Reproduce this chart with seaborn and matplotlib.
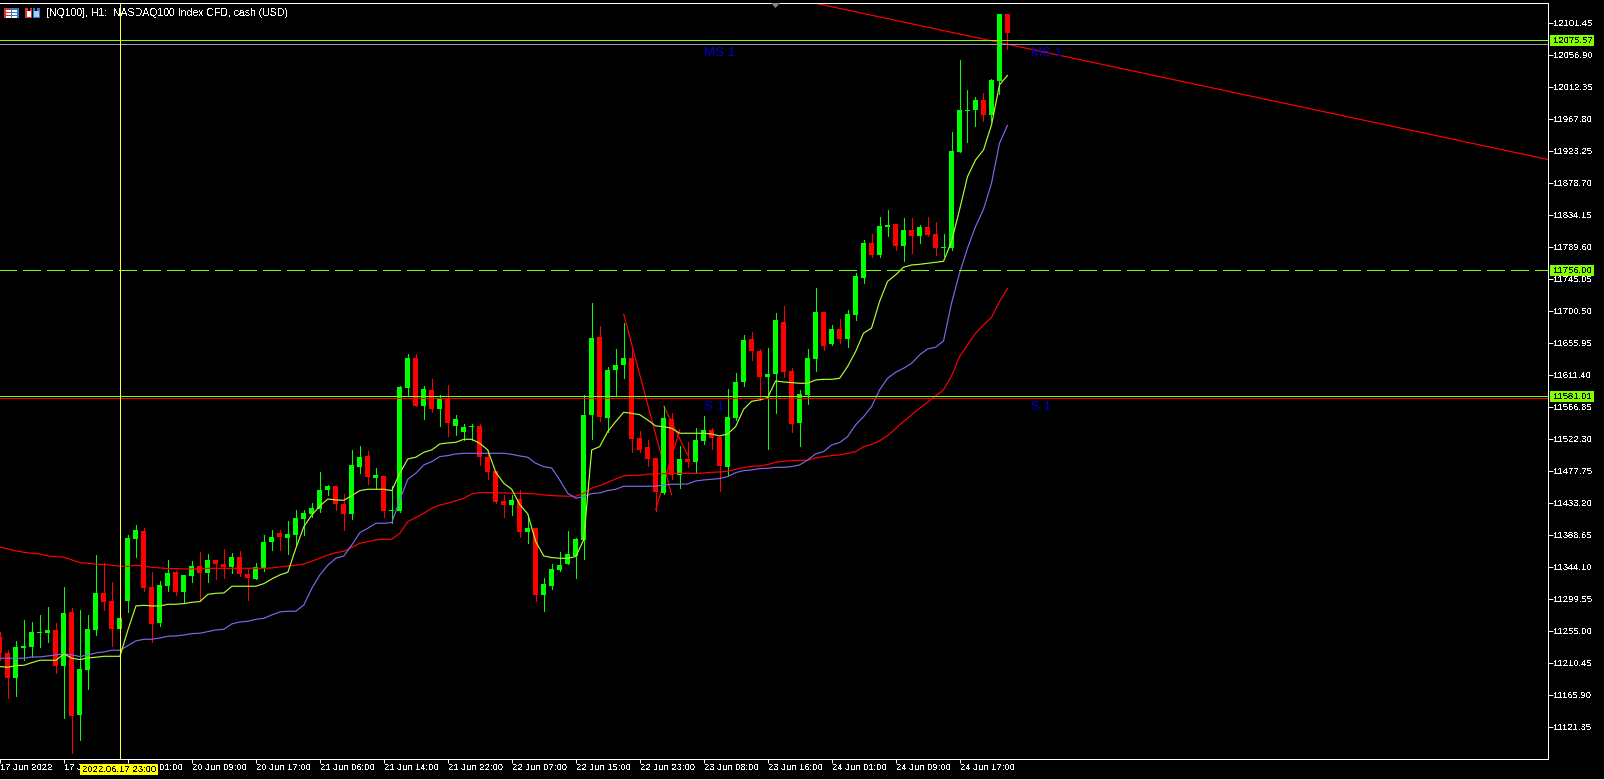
import numpy as np
import seaborn as sns
import matplotlib.pyplot as plt
from matplotlib.patches import Polygon, Rectangle
from matplotlib.transforms import IdentityTransform

# === chart values ===
open_px = [
    11246.5, 11224.2, 11189, 11230.7, 11232.1, 11251.6, 11251.6, 11255.8, 11205.7, 11280.9,
    11137.5, 11200.1, 11255.8, 11307.3, 11296.2, 11257.2, 11296.2, 11382.5, 11393.6, 11315.7,
    11265.5, 11317, 11336.5, 11308.7, 11331, 11344.9, 11335.1, 11353.2, 11347.7, 11343.5,
    11357.4, 11333.8, 11326.8, 11342.1, 11378.3, 11390.8, 11383.9, 11388, 11410.3, 11417.3,
    11424.2, 11450.7, 11456.2, 11431.2, 11417.3, 11482.7, 11498, 11467.4, 11470.2, 11421.4,
    11421.4, 11592.7, 11634.4, 11567.6, 11589.9, 11563.4, 11578.7, 11539.8, 11531.4, 11537.9,
    11539.8, 11496.6, 11477.1, 11435.4, 11429.8, 11438.2, 11392.2, 11397.8, 11304.5, 11317,
    11339.3, 11347.7, 11358.8, 11381.1, 11555.1, 11663.7, 11550.9, 11617.7, 11624.7, 11634.4,
    11523.1, 11510.5, 11495.2, 11446.5, 11549.5, 11471.6, 11493.8, 11489.7, 11518.9, 11534.2,
    11524.5, 11482.7, 11550.9, 11601, 11660.9, 11644.2, 11608, 11612.2, 11684.5, 11616.3,
    11543.9, 11582.9, 11633, 11698.5, 11653.9, 11674.8, 11660.9, 11694, 11745.8, 11794.5,
    11777.8, 11816.8, 11821, 11790.4, 11812.6, 11804.3, 11816.8, 11807.1, 11787.6, 11787.6,
    11921.2, 11978.3, 11979.7, 11993.6, 11972.7, 12020, 12113.3,
]
close_px = [
    11223.3, 11189, 11232.1, 11234, 11253, 11253, 11255.8, 11205.7, 11279.5, 11136.1,
    11201.5, 11257.2, 11307.3, 11294.8, 11257.2, 11272.5, 11383.9, 11395, 11314.3, 11264.2,
    11318.4, 11335.1, 11308.7, 11332.4, 11344.9, 11335.1, 11353.2, 11347.7, 11343.5, 11357.4,
    11333.8, 11328.2, 11343.5, 11378.3, 11385.3, 11385.3, 11389.4, 11411.7, 11418.7, 11425.6,
    11450.7, 11456.2, 11431.2, 11417.3, 11485.5, 11496.6, 11468.8, 11471.6, 11421.4, 11422.8,
    11594.1, 11634.4, 11567.6, 11591.3, 11563.4, 11577.4, 11543.9, 11549.5, 11538.4, 11539.8,
    11496.6, 11475.7, 11434, 11429.8, 11436.8, 11392.2, 11397.8, 11304.5, 11319.8, 11340.7,
    11346.3, 11361.6, 11382.5, 11555.1, 11662.3, 11552.3, 11617.7, 11624.7, 11634.4, 11521.7,
    11506.4, 11493.8, 11447.9, 11550.9, 11471.6, 11493.8, 11489.7, 11520.3, 11534.2, 11523.1,
    11484.1, 11552.3, 11601, 11659.5, 11644.2, 11608, 11612.2, 11687.3, 11614.9, 11542.6,
    11584.3, 11634.4, 11698.5, 11651.1, 11674.8, 11660.9, 11695.7, 11748.6, 11794.5, 11777.8,
    11818.2, 11819.6, 11790.4, 11812.6, 11804.3, 11816.8, 11805.7, 11787.6, 11789, 11922.6,
    11979.7, 11979.7, 11993.6, 11972.7, 12021.4, 12113.3, 12086.9,
]
high_px = [
    11253.5, 11228, 11240, 11269.7, 11266.9, 11276.7, 11287.8, 11265.1, 11315.7, 11286.4,
    11283.6, 11276.7, 11360.2, 11349.1, 11322.6, 11272.5, 11388, 11402, 11397.8, 11336.5,
    11324, 11353.2, 11338.4, 11332.4, 11351.8, 11364.4, 11361.6, 11353.2, 11368.6, 11363,
    11365.8, 11340.7, 11349.1, 11388, 11395, 11395, 11407.5, 11422.8, 11422.8, 11432.6,
    11476, 11458, 11456.2, 11445.1, 11506.4, 11511.9, 11505, 11481.3, 11470.2, 11456.2,
    11595.4, 11640, 11640, 11595.4, 11605.2, 11582.9, 11596.8, 11555.1, 11542.6, 11542.6,
    11542.6, 11506.4, 11477.1, 11443.7, 11443.7, 11450.7, 11415.9, 11397.8, 11328.2, 11347.7,
    11364.4, 11393.6, 11383.9, 11582.9, 11711, 11679, 11621.9, 11647, 11683.1, 11648.3,
    11532.8, 11520.3, 11495.2, 11567.6, 11557.9, 11511.9, 11517.5, 11537, 11553.7, 11537,
    11524.5, 11591.3, 11613.5, 11666.4, 11670.6, 11647, 11648.3, 11697.1, 11706.8, 11620.5,
    11589.9, 11647, 11731.9, 11698.5, 11680.4, 11688.7, 11701.2, 11752.8, 11798.7, 11807.1,
    11830.7, 11840.5, 11821, 11829.3, 11829.3, 11819.6, 11830.7, 11823.8, 11807.1, 11949.1,
    12049.3, 12007.5, 11997.8, 12003.3, 12022.8, 12113.3, 12113.3,
]
low_px = [
    11214, 11161, 11163.9, 11214, 11218.2, 11232.1, 11239.1, 11196.4, 11133.3, 11084.6,
    11102.7, 11173.7, 11248.8, 11283.6, 11233.5, 11245, 11280.9, 11357.4, 11310.1, 11239.1,
    11261.4, 11310.1, 11304.5, 11293.4, 11322.6, 11296.2, 11322.6, 11326.8, 11328.2, 11335.1,
    11331, 11297.6, 11326.8, 11337.9, 11367.2, 11367.2, 11361.6, 11374.1, 11388, 11413.1,
    11420, 11443.7, 11422.8, 11395, 11410.3, 11474.3, 11459, 11453.5, 11413.1, 11404.3,
    11420.5, 11581.5, 11567.6, 11549.5, 11559.3, 11539.8, 11525.8, 11527.2, 11520.3, 11520.3,
    11485.5, 11466, 11432.6, 11413.1, 11415.9, 11385.3, 11376.9, 11296.2, 11282.2, 11312.9,
    11337.9, 11347.7, 11328.2, 11354.6, 11521.7, 11546.7, 11531.4, 11581.5, 11606.6, 11503.6,
    11503.6, 11484.1, 11421.4, 11445.1, 11466, 11453.5, 11482.7, 11474.3, 11514.7, 11507.8,
    11449.3, 11471.6, 11548.1, 11595.4, 11631.6, 11576, 11507.8, 11557.9, 11608, 11531.4,
    11511.9, 11570.4, 11616.3, 11645.6, 11652.5, 11655.3, 11649.7, 11687, 11738.9, 11775.1,
    11775.1, 11804.3, 11784.8, 11769.5, 11780.6, 11794.5, 11804.3, 11777.8, 11776.4, 11784.8,
    11921.2, 11935.1, 11957.4, 11964.4, 11964.4, 12001.9, 12064.6,
]

ma_fast = [
    11204.8, 11203.8, 11206.2, 11206.6, 11210.3, 11213.6, 11213.6, 11213.6, 11222.4, 11216.4,
    11214.5, 11216.8, 11217.8, 11219.1, 11219.1, 11219.1, 11255.8, 11289.2, 11290.1, 11289.2,
    11289.2, 11291.5, 11291.5, 11292.5, 11294.3, 11295.2, 11305.4, 11306.8, 11307.3, 11316.6,
    11316.6, 11316.6, 11316.6, 11320.3, 11326.8, 11332.4, 11336.1, 11369.5, 11399.6, 11415.9,
    11428.4, 11438, 11436.8, 11436.3, 11442.8, 11449.8, 11451.6, 11451.6, 11451.6, 11449.8,
    11473.9, 11493.8, 11496.2, 11503.1, 11506.4, 11514.7, 11516.1, 11517, 11521.2, 11521.2,
    11515.6, 11506.4, 11475.3, 11460, 11451.6, 11430.3, 11417.3, 11378.8, 11358.8, 11356.5,
    11355.6, 11355.6, 11357.9, 11381.1, 11506.4, 11511, 11531.9, 11545.8, 11558.8, 11557.4,
    11555.5, 11548.1, 11539.8, 11538.8, 11536.5, 11529.6, 11529.6, 11529.6, 11529.6, 11528.6,
    11525.8, 11528.6, 11538.8, 11563, 11574.1, 11576, 11579.2, 11602.4, 11601, 11600.1,
    11599.2, 11599.2, 11603.8, 11604.7, 11604.7, 11606.1, 11622.4, 11643.2, 11669, 11676,
    11713, 11741, 11750, 11760.7, 11763.9, 11764.8, 11766.2, 11767.6, 11769, 11796.4,
    11840.5, 11886.9, 11910.1, 11924, 11958.8, 12014.5, 12027.9,
]
ma_mid = [
    11216.4, 11216.4, 11216.4, 11216.4, 11218.2, 11218.2, 11219.6, 11221, 11222.4, 11221,
    11218.7, 11221, 11223.8, 11225.2, 11227.5, 11227.5, 11234, 11240.5, 11242.8, 11242.8,
    11244.7, 11247, 11247.4, 11248.8, 11250.7, 11251.2, 11253.5, 11255.8, 11256.7, 11264.2,
    11266.9, 11267.9, 11270.6, 11272, 11276.7, 11280.9, 11281.8, 11281.8, 11290.6, 11313.8,
    11332.4, 11346, 11355.6, 11358.8, 11374.1, 11391.3, 11397.3, 11404.3, 11404.3, 11405.2,
    11436.8, 11465.5, 11473.9, 11485.5, 11490.1, 11497.1, 11498.5, 11500.8, 11501.7, 11501.7,
    11501.7, 11501.7, 11501.7, 11501.7, 11500.3, 11498, 11496.2, 11487.8, 11483.2, 11481.3,
    11464.6, 11446, 11439.1, 11441.4, 11445.6, 11446.5, 11449.8, 11451.6, 11455.8, 11455.8,
    11455.8, 11455.8, 11455.8, 11457.6, 11458.6, 11458.6, 11459, 11463.2, 11464.6, 11465.5,
    11466.5, 11469.2, 11474.8, 11477.6, 11478.5, 11480.4, 11480.8, 11482.2, 11482.2, 11483.2,
    11485.5, 11492.4, 11500.8, 11504, 11513.3, 11516.6, 11524.9, 11541.2, 11552.7, 11566.7,
    11589.9, 11606.1, 11614.5, 11620, 11627, 11638.6, 11646.9, 11649.3, 11658.1, 11710.5,
    11752.3, 11787.1, 11817.3, 11841.4, 11877.6, 11933.3, 11958.3,
]
ma_slow = [
    11370.9, 11368.6, 11365.8, 11363.9, 11362.5, 11361.6, 11358.8, 11357.9, 11357, 11353.2,
    11349.5, 11348.6, 11347.2, 11347.2, 11345.8, 11344.4, 11344.4, 11345.8, 11344.4, 11343,
    11342.1, 11341.2, 11341.2, 11340.7, 11340.7, 11340.7, 11341.6, 11341.6, 11341.6, 11341.6,
    11341.6, 11341.6, 11341.6, 11341.6, 11342.1, 11343.5, 11344.9, 11345.8, 11347.7, 11351.4,
    11355.6, 11360, 11363.4, 11365.3, 11370.9, 11376.4, 11378.8, 11381.1, 11382, 11382,
    11390.4, 11406.6, 11412.2, 11418.2, 11425.2, 11429.8, 11432.1, 11435.8, 11439.1, 11445.1,
    11447, 11447, 11447, 11446.5, 11446, 11446, 11445.6, 11445.1, 11443.7, 11442.8,
    11442.3, 11441.9, 11441.9, 11446, 11453, 11456.7, 11461.4, 11466, 11470.2, 11471.1,
    11471.1, 11472.5, 11473, 11473.4, 11473.4, 11473.9, 11473.9, 11473.9, 11474.3, 11475.3,
    11475.7, 11476.7, 11479.4, 11481.8, 11483.6, 11484.1, 11485.9, 11489.2, 11490.6, 11491.5,
    11492, 11492, 11495.2, 11497.1, 11498.5, 11499.4, 11501.7, 11504, 11511, 11514,
    11519, 11526, 11536, 11546, 11555.1, 11564.3, 11572.7, 11581.5, 11589.9, 11609.3,
    11636.3, 11652.5, 11668.7, 11680.3, 11691, 11712.8, 11731.4,
]

# hand drawn trend lines: (bar, price) pairs
trend_bars = [(78, 84), (82, 85), (83, 86), (102, 194)]
trend_prices = [(11695.7, 11443.7), (11422.9, 11534.2), (11567.6, 11499.4), (12128.2, 11909.8)]

price_ticks = [
    12101.45, 12056.90, 12012.35, 11967.80, 11923.25, 11878.70, 11834.15, 11789.60,
    11745.05, 11700.50, 11655.95, 11611.40, 11566.85, 11522.30, 11477.75, 11433.20,
    11388.65, 11344.10, 11299.55, 11255.00, 11210.45, 11165.90, 11121.35,
]
time_ticks = list(range(0, 121, 8))
time_labels = [
    "17 Jun 2022", "17 Jun 16:00", "20 Jun 01:00", "20 Jun 09:00", "20 Jun 17:00", "21 Jun 06:00",
    "21 Jun 14:00", "21 Jun 22:00", "22 Jun 07:00", "22 Jun 15:00", "22 Jun 23:00", "23 Jun 08:00",
    "23 Jun 16:00", "24 Jun 01:00", "24 Jun 09:00", "24 Jun 17:00",
]
level_lines = [12076.6, 11756.4, 11581.01]
level_labels = ["12075.57", "11756.00", "11581.01"]

# === style ===
W, H = 1604, 780
PX = 72 / 100  # one pixel in points at dpi 100
LINE = 0.85
CANDLE_UP = "#00ff00"
CANDLE_DOWN = "#ff0000"
LEVEL = "#7fff00"
LABEL_BLUE = "#0000cd"
FONT = 6.8

sns.set_theme(style="dark", rc={
    "axes.facecolor": "black",
    "figure.facecolor": "black",
    "savefig.facecolor": "black",
    "lines.scale_dashes": False,
    "text.antialiased": False,
})
plt.rcParams["font.family"] = ["Liberation Sans", "DejaVu Sans"]

fig = plt.figure(figsize=(W / 100, H / 100), dpi=100)
ax = fig.add_axes([0, 1 - 758.5 / H, 1547.5 / W, (758.5 - 2.5) / H])
ax.set_xlim(0.1, 193.5375)
ax.set_ylim(11076.8, 12129.3)


def box(x0, y0, x1, y1, color, zorder=5):
    # rectangle in screen pixels, y counted from the top of the image
    fig.add_artist(Rectangle((x0, H - y1), x1 - x0, y1 - y0, transform=IdentityTransform(),
                             facecolor=color, edgecolor="none", linewidth=0,
                             antialiased=False, zorder=zorder))


def label(x, y, text, color="white", size=FONT, ha="left", zorder=6):
    fig.text(x / W, 1 - y / H, text, color=color, fontsize=size, ha=ha, va="center", zorder=zorder)


# === trend lines sit behind the candles ===
for bars_xy, prices_xy in zip(trend_bars, trend_prices):
    ax.plot(bars_xy, prices_xy, color="#ff0000", linewidth=LINE, zorder=1)

# === candles ===
bars = np.arange(len(open_px))
opens, closes = np.array(open_px), np.array(close_px)
colors = [CANDLE_UP if c >= o else CANDLE_DOWN for o, c in zip(opens, closes)]
ax.vlines(bars, low_px, high_px, colors=colors, lw=PX, antialiased=False, zorder=2)
ax.bar(bars, np.maximum(np.abs(closes - opens), 1.4), bottom=np.minimum(opens, closes),
       width=0.625, color=colors, linewidth=0, antialiased=False, zorder=2)

# === moving averages ===
for values, color in [(ma_slow, "#ff0000"), (ma_mid, "#7b68ee"), (ma_fast, "#adff2f")]:
    sns.lineplot(x=bars, y=values, ax=ax, color=color, linewidth=LINE, estimator=None, errorbar=None,
                 zorder=3)

# === horizontal levels ===
ax.axhline(level_lines[0], color=LEVEL, lw=PX, antialiased=False, zorder=4)
ax.axhline(12072.2, color="#a0a0a0", lw=PX, antialiased=False, zorder=4)
ax.axhline(level_lines[1], color=LEVEL, lw=PX, antialiased=False, zorder=4,
           linestyle=(PX, (18 * PX, 6 * PX)))
ax.axhline(11578.0, color="#ff0000", lw=PX, antialiased=False, zorder=4)
ax.axhline(level_lines[2], color=LEVEL, lw=PX, antialiased=False, zorder=4)

# === crosshair and labels on the chart ===
ax.axvline(15, color="#ffff40", lw=PX, antialiased=False, zorder=7)
fig.add_artist(Polygon([(771, H - 3), (780, H - 3), (775.5, H - 8)], transform=IdentityTransform(),
                       facecolor="#778899", edgecolor="none", zorder=5))
for bar, price, text in [(88, 12059.0, "MS 1"), (129, 12059.0, "MS 1"),
                         (88, 11566.5, "S 1"), (129, 11566.5, "S 1")]:
    ax.text(bar, price, text, color=LABEL_BLUE, fontsize=9.6, ha="left", va="center", zorder=6,
            antialiased=True)
ax.text(45.5 / W, 1 - 13.5 / H, "[NQ100], H1:  NASDAQ100 Index CFD, cash (USD)", color="white",
        fontsize=7.6, va="center", transform=fig.transFigure, zorder=5)

# === axes ===
for side in ["top", "right", "bottom"]:
    ax.spines[side].set_color("white")
    ax.spines[side].set_linewidth(PX)
ax.spines["left"].set_visible(False)
ax.yaxis.tick_right()
ax.set_yticks(price_ticks, [f"{p:.2f}" for p in price_ticks])
ax.set_xticks(time_ticks, time_labels, ha="left")
ax.tick_params(axis="y", colors="white", length=5 * PX, width=PX, pad=1 * PX, labelsize=FONT, right=True)
ax.tick_params(axis="x", colors="white", length=4 * PX, width=PX, pad=1 * PX, labelsize=FONT, bottom=True)
ax.grid(False)
ax.set_xlabel("")
ax.set_ylabel("")

# === price tags on the right scale ===
for price, text in zip(level_lines, level_labels):
    y = H - ax.transData.transform((0, price))[1]
    box(1550, y - 5.5, 1594, y + 5.5, LEVEL)
    label(1553, y, text, color="black")

# === crosshair time tag ===
box(80, 764, 158, 774.5, "#ffff00")
label(119, 769, "2022.06.17 23:00", color="black", ha="center")

# === toolbar icons at top left ===
box(4, 8, 11, 18, "#e03030")
box(11, 8, 18.5, 18, "#2f78d0")
for y0 in (10, 13, 16):
    box(6, y0, 10.5, y0 + 1.5, "white", 6)
    box(12, y0, 17, y0 + 1.5, "white", 6)
box(25, 8, 32, 18, "#e03030")
box(33, 8, 40, 18, "#2f78d0")
box(27, 11, 31, 17, "white", 6)
box(34, 11, 39, 17, "#a8d0f0", 6)
box(28, 8, 30, 11, "black", 6)
box(35, 8, 37, 11, "black", 6)

# thin light strip at the very bottom of the window
box(0, 779, W, 780, "#e8e8e8")

fig.savefig("out.png", dpi=100)
plt.close(fig)
